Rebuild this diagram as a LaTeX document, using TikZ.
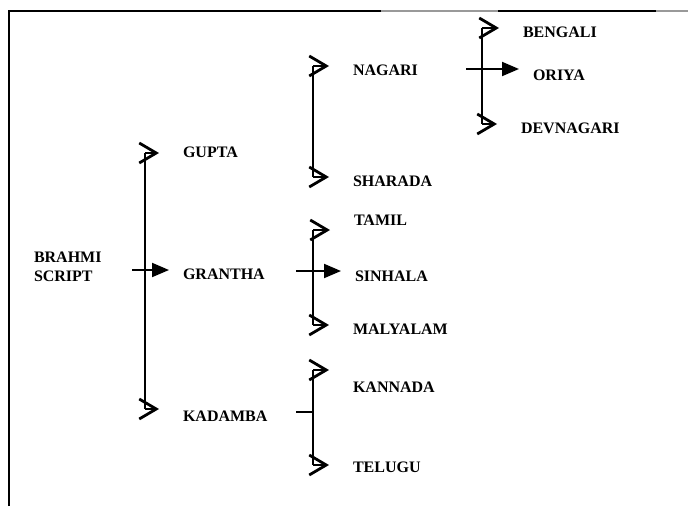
\documentclass[tikz,border=0pt]{standalone}
\usepackage{fontspec}
\setmainfont{Liberation Serif}
\usetikzlibrary{arrows.meta}

\begin{document}
\begin{tikzpicture}[x=1pt,y=-1pt,line width=2pt]
    \tikzstyle{script}=[anchor=west,inner sep=0pt,font=\fontsize{16}{18.5}\selectfont\bfseries]
    \tikzstyle{bus}=[line width=2pt]
    \tikzstyle{open arrow}=[-{Straight Barb[length=17pt,width=20pt,line width=2.8pt]},shorten >=23pt]
    \tikzstyle{main arrow}=[-{Triangle[length=17pt,width=14pt]},shorten >=13pt]
    \useasboundingbox (0,0) rectangle (688,506);

    % Frame of the page
    \draw[line width=2.5pt] (9,506) -- (9,11) -- (381,11);
    \draw[line width=1.5pt,black!40] (381,11) -- (498,11);
    \draw[line width=2.5pt] (498,11) -- (656,11);
    \draw[line width=1.5pt,black!40] (656,11) -- (688,11);

    % Script names
    \node[script,align=left] (brahmi) at (33,267) {BRAHMI\\SCRIPT};
    \node[script] (gupta) at (182,152) {GUPTA};
    \node[script] (grantha) at (182,274) {GRANTHA};
    \node[script] (kadamba) at (182,416) {KADAMBA};
    \node[script] (nagari) at (352,70) {NAGARI};
    \node[script] (sharada) at (352,181) {SHARADA};
    \node[script] (tamil) at (353,220) {TAMIL};
    \node[script] (sinhala) at (354,276) {SINHALA};
    \node[script] (malyalam) at (352,329) {MALYALAM};
    \node[script] (kannada) at (352,387) {KANNADA};
    \node[script] (telugu) at (352,467) {TELUGU};
    \node[script] (bengali) at (522,32) {BENGALI};
    \node[script] (oriya) at (532,75) {ORIYA};
    \node[script] (devnagari) at (520,128) {DEVNAGARI};

    % Taps on the vertical lines
    \foreach \name/\x/\y in {gupta/145/153,kadamba/145/409,nagari/313/66,sharada/313/177,
        tamil/313/230,malyalam/313/325,kannada/313/370,telugu/313/465,
        bengali/482/28,devnagari/482/124}
        \coordinate (t-\name) at (\x,\y);
    % Entry points of the branches
    \coordinate (in-grantha) at (132,270);
    \coordinate (in-sinhala) at (296,271);
    \coordinate (in-oriya) at (466,69);
    \coordinate (in-kadamba) at (296,412);

    % Vertical lines
    \draw[bus] (t-gupta) -- (t-kadamba);
    \draw[bus] (t-nagari) -- (t-sharada);
    \draw[bus] (t-tamil) -- (t-malyalam);
    \draw[bus] (t-kannada) -- (t-telugu);
    \draw[bus] (t-bengali) -- (t-devnagari);

    % Open arrows to every branch
    \foreach \name in {gupta,kadamba,nagari,sharada,tamil,malyalam,kannada,telugu,bengali,devnagari}
        \draw[open arrow] (t-\name) -- (t-\name -| \name.west);

    % Filled arrows through the middle
    \foreach \name in {grantha,sinhala,oriya}
        \draw[main arrow] (in-\name) -- (in-\name -| \name.west);
    \draw (in-kadamba) -- (in-kadamba -| t-kannada);
\end{tikzpicture}
\end{document}
